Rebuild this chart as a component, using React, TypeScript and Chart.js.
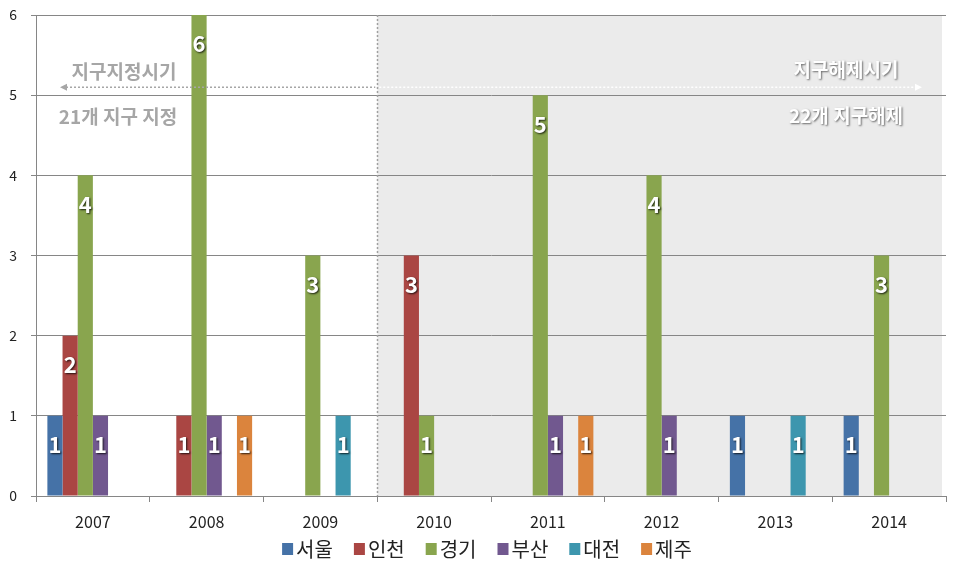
import React, { useEffect, useRef } from "react";
import { Chart, registerables } from "chart.js";

Chart.register(...registerables);

const years = ["2007", "2008", "2009", "2010", "2011", "2012", "2013", "2014"];
const seoul = [1, 0, 0, 0, 0, 0, 1, 1];
const incheon = [2, 1, 0, 3, 0, 0, 0, 0];
const gyeonggi = [4, 6, 3, 1, 5, 4, 0, 3];
const busan = [1, 1, 0, 0, 1, 1, 0, 0];
const daejeon = [0, 0, 1, 0, 0, 0, 1, 0];
const jeju = [0, 1, 0, 0, 1, 0, 0, 0];
const seriesNames = ["서울", "인천", "경기", "부산", "대전", "제주"];
const seriesColors = ["#4572A7", "#AA4643", "#89A54E", "#71588F", "#3D96AE", "#DB843D"];
const yTicks = [0, 1, 2, 3, 4, 5, 6];
const shadeStartIndex = 3;
const leftNote = ["지구지정시기", "21개 지구 지정"];
const rightNote = ["지구해제시기", "22개 지구해제"];

const FONT = "'Noto Sans CJK KR', 'Noto Sans', sans-serif";

const overlayPlugin = {
  id: "overlay",
  beforeDraw(chart: any) {
    const { ctx, chartArea, scales } = chart;
    const x = scales.x;
    const bx = (x.getPixelForValue(shadeStartIndex - 1) + x.getPixelForValue(shadeStartIndex)) / 2;
    ctx.save();
    ctx.fillStyle = "#EBEBEB";
    ctx.fillRect(bx, chartArea.top, chartArea.right - 4 - bx, chartArea.bottom - chartArea.top);
    ctx.restore();
  },
  afterDatasetsDraw(chart: any) {
    const { ctx, chartArea, scales } = chart;
    const x = scales.x;
    const y = scales.y;
    const bx = (x.getPixelForValue(shadeStartIndex - 1) + x.getPixelForValue(shadeStartIndex)) / 2;

    // dotted divider
    ctx.save();
    ctx.strokeStyle = "#A0A0A0";
    ctx.lineWidth = 1.5;
    ctx.setLineDash([2, 2]);
    ctx.beginPath();
    ctx.moveTo(Math.round(bx) + 0.5, chartArea.top);
    ctx.lineTo(Math.round(bx) + 0.5, chartArea.bottom);
    ctx.stroke();
    ctx.restore();

    // arrows
    const ay = y.getPixelForValue(5) - 8;
    ctx.save();
    ctx.lineWidth = 1.5;
    ctx.setLineDash([2, 2]);
    ctx.strokeStyle = "#A6A6A6";
    ctx.beginPath();
    ctx.moveTo(chartArea.left + 30, ay);
    ctx.lineTo(bx - 2, ay);
    ctx.stroke();
    ctx.strokeStyle = "#FFFFFF";
    ctx.beginPath();
    ctx.moveTo(bx + 2, ay);
    ctx.lineTo(chartArea.right - 30, ay);
    ctx.stroke();
    ctx.setLineDash([]);
    ctx.fillStyle = "#A6A6A6";
    ctx.beginPath();
    ctx.moveTo(chartArea.left + 24, ay);
    ctx.lineTo(chartArea.left + 31, ay - 3.5);
    ctx.lineTo(chartArea.left + 31, ay + 3.5);
    ctx.closePath();
    ctx.fill();
    ctx.fillStyle = "#FFFFFF";
    ctx.beginPath();
    ctx.moveTo(chartArea.right - 24, ay);
    ctx.lineTo(chartArea.right - 31, ay - 3.5);
    ctx.lineTo(chartArea.right - 31, ay + 3.5);
    ctx.closePath();
    ctx.fill();
    ctx.restore();

    // notes
    ctx.save();
    ctx.font = "bold 19px " + FONT;
    ctx.textAlign = "center";
    ctx.textBaseline = "middle";
    ctx.fillStyle = "#A6A6A6";
    ctx.fillText(leftNote[0], 124, ay - 15);
    ctx.fillText(leftNote[1], 118, ay + 30);
    ctx.shadowColor = "rgba(0,0,0,0.55)";
    ctx.shadowOffsetX = 1;
    ctx.shadowOffsetY = 1;
    ctx.shadowBlur = 2;
    ctx.fillStyle = "#FFFFFF";
    ctx.fillText(rightNote[0], 846, ay - 17);
    ctx.fillText(rightNote[1], 846, ay + 29);
    ctx.restore();

    // value labels
    ctx.save();
    ctx.font = "bold 22px " + FONT;
    ctx.textAlign = "center";
    ctx.textBaseline = "middle";
    ctx.fillStyle = "#FFFFFF";
    ctx.shadowColor = "rgba(0,0,0,0.8)";
    ctx.shadowOffsetX = 1;
    ctx.shadowOffsetY = 1;
    ctx.shadowBlur = 2;
    chart.data.datasets.forEach((ds: any, di: number) => {
      const meta = chart.getDatasetMeta(di);
      meta.data.forEach((bar: any, i: number) => {
        const v = ds.data[i];
        if (!v) return;
        ctx.fillText(String(v), bar.x, bar.y + 29);
      });
    });
    ctx.restore();

    // legend
    ctx.save();
    ctx.font = "20px " + FONT;
    ctx.textBaseline = "middle";
    const box = 11;
    const gap = 3;
    const spacing = 21;
    const widths = seriesNames.map((n) => box + gap + ctx.measureText(n).width);
    const total = widths.reduce((a, b) => a + b, 0) + spacing * (widths.length - 1);
    let lx = 487 - total / 2;
    const ly = 549;
    seriesNames.forEach((n, i) => {
      ctx.fillStyle = seriesColors[i];
      ctx.fillRect(lx, ly - 6, box, 12);
      ctx.fillStyle = "#222222";
      ctx.fillText(n, lx + box + gap, ly);
      lx += widths[i] + spacing;
    });
    ctx.restore();
  },
};

export default function App() {
  const ref = useRef<HTMLCanvasElement>(null);
  useEffect(() => {
    const allData = [seoul, incheon, gyeonggi, busan, daejeon, jeju];
    const chart = new Chart(ref.current!, {
      type: "bar",
      data: {
        labels: years,
        datasets: allData.map((d, i) => ({
          label: seriesNames[i],
          data: d,
          backgroundColor: seriesColors[i],
          borderWidth: 0,
          categoryPercentage: 0.8,
          barPercentage: 1.0,
        })),
      },
      options: {
        animation: false,
        responsive: false,
        maintainAspectRatio: false,
        layout: { padding: { left: 0, right: 16, top: 15, bottom: 28 } },
        plugins: { legend: { display: false }, tooltip: { enabled: false } },
        scales: {
          x: {
            grid: { display: true, drawOnChartArea: false, drawTicks: true, tickLength: 6, color: "#868686", offset: true },
            border: { color: "#868686" },
            ticks: { font: { family: FONT, size: 16 }, color: "#222222", padding: 10, maxRotation: 0 },
            afterFit(scale: any) {
              scale.height = 40;
            },
          },
          y: {
            min: 0,
            max: 6,
            afterBuildTicks(scale: any) {
              scale.ticks = yTicks.map((v) => ({ value: v }));
            },
            grid: { color: "#868686", tickLength: 5 },
            border: { color: "#868686" },
            ticks: { font: { family: FONT, size: 14 }, color: "#222222", padding: 14 },
            afterFit(scale: any) {
              scale.width = 36;
              scale.paddingTop = 0;
              scale.paddingBottom = 0;
            },
          },
        },
      },
      plugins: [overlayPlugin],
    });
    return () => chart.destroy();
  }, []);
  return (
    <div style={{ position: "fixed", left: 0, top: 0, width: 962, height: 564, background: "#fff" }}>
      <canvas ref={ref} width={962} height={564} style={{ width: 962, height: 564 }} />
    </div>
  );
}
